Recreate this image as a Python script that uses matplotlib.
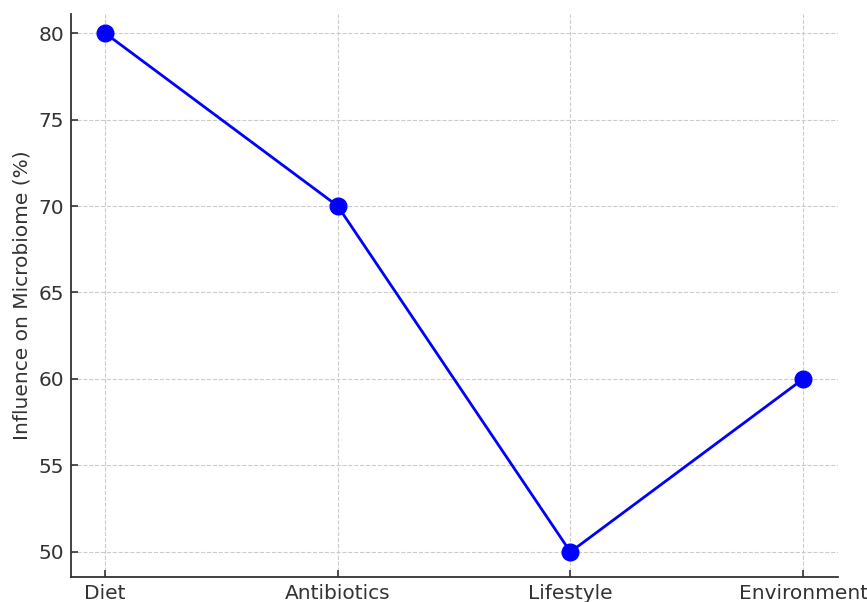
import matplotlib
matplotlib.use('Agg')
import matplotlib.pyplot as plt

# Factors and their estimated influence on the gut microbiome
factors = ['Diet', 'Antibiotics', 'Lifestyle', 'Environment']
influence = [80, 70, 50, 60]
y_ticks = [50, 55, 60, 65, 70, 75, 80]

fig = plt.figure(figsize=(8.67, 6.02), dpi=100)
ax = fig.add_axes([0.0819, 0.0415, 0.8847, 0.9352])

x = list(range(len(factors)))
ax.plot(x, influence, color='blue', lw=2, marker='o', markersize=12, zorder=3)

ax.set_xticks(x)
ax.set_xticklabels(factors)
ax.set_yticks(y_ticks)
ax.set_xlim(-0.146, 3.15)
ax.set_ylim(48.55, 81.1)

ax.set_ylabel('Influence on Microbiome (%)', fontsize=14.5, color='#333333', labelpad=5)
ax.tick_params(axis='both', direction='in', labelsize=14.5, labelcolor='#333333',
               color='#333333', length=5, width=1.2, pad=5)

ax.grid(True, linestyle='--', color='#cccccc', lw=0.8)
for side in ['top', 'right']:
    ax.spines[side].set_visible(False)
for side in ['left', 'bottom']:
    ax.spines[side].set_color('#333333')
    ax.spines[side].set_linewidth(1.3)

fig.savefig('out.png', dpi=100)
